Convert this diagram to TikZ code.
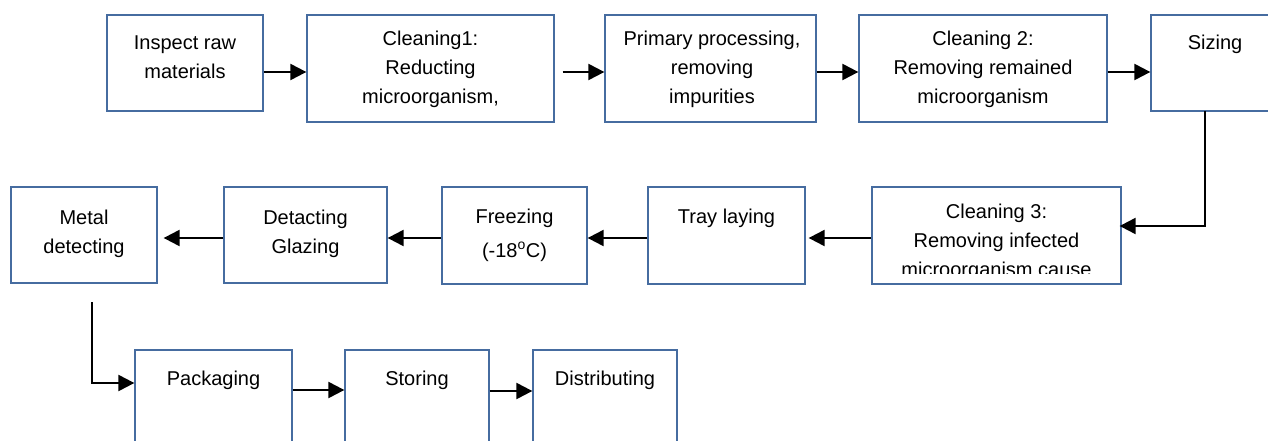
\documentclass[tikz,border=0pt]{standalone}
\usepackage{fontspec}
\setmainfont{Liberation Sans}
\usetikzlibrary{arrows.meta}
\definecolor{boxline}{RGB}{70,108,160}
\begin{document}
\begin{tikzpicture}[x=1pt,y=-1pt,
  box/.style={draw=boxline,line width=1.3pt,inner sep=0pt,fill=white},
  txt/.style={align=center,anchor=base,inner sep=0pt,font=\fontsize{20}{29}\selectfont},
  flow/.style={line width=2.2pt,-{Triangle[length=16pt,width=16pt]}}]
\useasboundingbox (0,0) rectangle (1268,441);
\clip (0,0) rectangle (1268,441);
% row 1
\node[box,minimum width=156pt,minimum height=96pt] (inspect) at (185,63) {};
\node[box,minimum width=247pt,minimum height=107pt] (clean1) at (430.5,68.5) {};
\node[box,minimum width=211pt,minimum height=107pt] (primary) at (710.5,68.5) {};
\node[box,minimum width=248pt,minimum height=107pt] (clean2) at (983,68.5) {};
\node[box,minimum width=129pt,minimum height=96pt] (sizing) at (1215.5,63) {};
% row 2
\node[box,minimum width=146pt,minimum height=96pt] (metal) at (84,235) {};
\node[box,minimum width=163pt,minimum height=96pt] (detact) at (305.5,235) {};
\node[box,minimum width=145pt,minimum height=97pt] (freeze) at (514.5,235.5) {};
\node[box,minimum width=157pt,minimum height=97pt] (tray) at (726.5,235.5) {};
\node[box,minimum width=249pt,minimum height=97pt] (clean3) at (996.5,235.5) {};
% row 3
\node[box,minimum width=157pt,minimum height=110pt] (pack) at (213.5,405) {};
\node[box,minimum width=144pt,minimum height=110pt] (store) at (417,405) {};
\node[box,minimum width=144pt,minimum height=110pt] (dist) at (605,405) {};
% texts (anchor = baseline of the last line)
\node[txt] (tinspect) at (185,79) {Inspect raw\\materials};
\node[txt] (tclean1) at (430.5,104) {Cleaning1:\\Reducting\\microorganism,};
\node[txt] (tprimary) at (712,104) {Primary processing,\\removing\\impurities};
\node[txt] (tclean2) at (983,104) {Cleaning 2:\\Removing remained\\microorganism};
\node[txt] (tsizing) at (1215,50) {Sizing};
\node[txt] (tmetal) at (84,253) {Metal\\detecting};
\node[txt] (tdetact) at (305.5,253) {Detacting\\Glazing};
\node[txt] (tfreeze) at (514.5,257) {Freezing\\[5pt](-18\textsuperscript{o}C)};
\node[txt] (ttray) at (726.5,223) {Tray laying};
\begin{scope}
\clip (872,187) rectangle (1121,273.5);
\node[txt] (tclean3) at (996.5,276) {Cleaning 3:\\Removing infected\\microorganism cause};
\end{scope}
\node[txt] (tpack) at (213.5,385) {Packaging};
\node[txt] (tstore) at (417,385) {Storing};
\node[txt] (tdist) at (605,385) {Distributing};
% connectors
\coordinate (szout) at (1205,111);
\coordinate (mdout) at (92,302);
\draw[flow] (inspect.east |- 0,72) -- (clean1.west |- 0,72);
\draw[flow,shorten <=8pt] (clean1.east |- 0,72) -- (primary.west |- 0,72);
\draw[flow] (primary.east |- 0,72) -- (clean2.west |- 0,72);
\draw[flow] (clean2.east |- 0,72) -- (sizing.west |- 0,72);
\draw[flow,shorten >=-2pt] (szout) |- (clean3.east |- 0,226);
\draw[flow,shorten >=3pt] (clean3.west |- 0,238) -- (tray.east |- 0,238);
\draw[flow] (tray.west |- 0,238) -- (freeze.east |- 0,238);
\draw[flow] (freeze.west |- 0,238) -- (detact.east |- 0,238);
\draw[flow,shorten >=6pt] (detact.west |- 0,238) -- (metal.east |- 0,238);
\draw[flow] (mdout) |- (pack.west |- 0,383);
\draw[flow] (pack.east |- 0,390) -- (store.west |- 0,390);
\draw[flow] (store.east |- 0,391) -- (dist.west |- 0,391);
\end{tikzpicture}
\end{document}
